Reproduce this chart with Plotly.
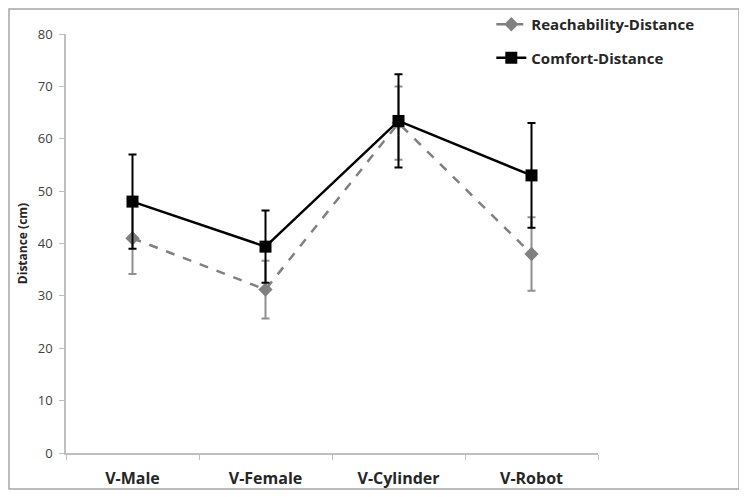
import plotly.graph_objects as go

categories = ["V-Male", "V-Female", "V-Cylinder", "V-Robot"]
reach_mean = [41, 31.2, 63, 38]
reach_err = [6.8, 5.5, 7, 7]
comfort_mean = [48, 39.4, 63.4, 53]
comfort_err = [9, 6.9, 8.9, 10]
y_ticks = [0, 10, 20, 30, 40, 50, 60, 70, 80]

W, H = 739, 489  # page body has an 8px margin

fig = go.Figure()
fig.add_trace(go.Scatter(
    x=categories, y=reach_mean, name="Reachability-Distance", legendgroup="r",
    mode="lines+markers",
    line=dict(color="#808080", width=2.5, dash="dash"),
    marker=dict(symbol="diamond", size=11, color="#808080"),
    error_y=dict(type="data", array=reach_err, visible=True, color="#909090", thickness=2, width=4),
))
fig.add_trace(go.Scatter(
    x=categories, y=comfort_mean, name="Comfort-Distance", legendgroup="c",
    mode="lines+markers",
    line=dict(color="black", width=2.5),
    marker=dict(symbol="square", size=12, color="black"),
    error_y=dict(type="data", array=comfort_err, visible=True, color="black", thickness=2, width=4),
))

fig.update_layout(
    width=W, height=H,
    margin=dict(l=58, r=149, t=26, b=44, autoexpand=False),
    paper_bgcolor="white", plot_bgcolor="white",
    font=dict(family="Open Sans, Liberation Sans, sans-serif", color="#404040"),
    showlegend=True,
    legend=dict(xref="container", yref="container", x=0.654, y=1.0,
                xanchor="left", yanchor="top",
                font=dict(size=15, color="#262626", family="Open Sans, sans-serif", weight="bold"),
                tracegroupgap=11, bgcolor="rgba(0,0,0,0)"),
    shapes=[dict(type="rect", xref="paper", yref="paper",
                 x0=-57 / 532, x1=(731 - 58) / 532, y0=-(481 - 445) / 419, y1=(445 - 1) / 419,
                 line=dict(color="#a6a6a6", width=1.5), fillcolor="rgba(0,0,0,0)", layer="above")],
)
fig.update_xaxes(
    showline=True, linecolor="#bfbfbf", linewidth=1.5, showgrid=False,
    ticks="outside", tickson="boundaries", ticklen=5, tickcolor="#bfbfbf",
    tickfont=dict(size=16, color="#262626", weight="bold"), ticklabelstandoff=10,
    range=[-0.5, 3.5],
)
fig.update_yaxes(
    showline=True, linecolor="#bfbfbf", linewidth=1.5, showgrid=False, zeroline=False,
    ticks="outside", ticklen=5, tickcolor="#bfbfbf", ticklabelstandoff=4,
    tickvals=y_ticks, range=[0, 80],
    tickfont=dict(size=13, color="#404040"),
    title=dict(text="Distance (cm)", font=dict(size=12, color="#262626", weight="bold"), standoff=8),
)

fig.write_html("out.html")
